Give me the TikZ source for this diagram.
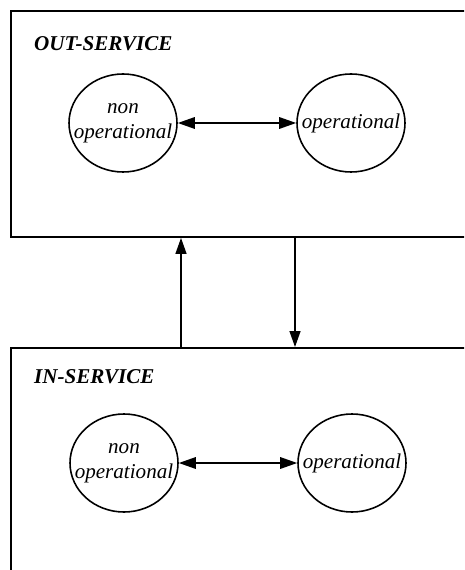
\documentclass[tikz,border=0pt]{standalone}
\usepackage{fontspec}
\setmainfont{Liberation Serif}
\usetikzlibrary{arrows.meta,shapes.geometric}
\tikzset{
  servicebox/.style={draw, line width=1.1pt, anchor=north west, minimum width=9.6cm, minimum height=4.52cm},
  state/.style={draw, ellipse, line width=0.9pt, minimum width=2.16cm, minimum height=1.96cm, inner xsep=-0.32cm, inner ysep=0pt, align=center, font=\itshape\large},
  boxlabel/.style={anchor=west, font=\bfseries\itshape\large},
  link/.style={line width=0.9pt, {Triangle[length=0.34cm,width=0.23cm]}-{Triangle[length=0.34cm,width=0.23cm]}},
  move/.style={line width=0.8pt, -{Triangle[length=0.32cm,width=0.22cm]}}
}
\begin{document}
\begin{tikzpicture}[x=0.2cm, y=0.2cm]
    \useasboundingbox (0,0) rectangle (46.4,-57);
    \clip (0,0) rectangle (46.4,-57);
    \node[servicebox] (outsvc) at (1,-1) {};
    \node[servicebox, minimum height=5.5cm] (insvc) at (1,-34.7) {};
    \node[boxlabel] (outlabel) at (2.8,-4.4) {OUT-SERVICE};
    \node[boxlabel] (inlabel) at (2.8,-37.7) {IN-SERVICE};
    \node[state] (outnon) at (12.3,-12.3) {non\\operational};
    \node[state] (outop) at (35.1,-12.3) {operational};
    \node[state] (innon) at (12.4,-46.3) {non\\operational};
    \node[state] (inop) at (35.2,-46.3) {operational};
    \draw[link] (outnon) -- (outop);
    \draw[link] (innon) -- (inop);
    \coordinate (upx) at (18.1,0);
    \coordinate (downx) at (29.5,0);
    \draw[move] (insvc.north -| upx) -- (outsvc.south -| upx);
    \draw[move] (outsvc.south -| downx) -- (insvc.north -| downx);
\end{tikzpicture}
\end{document}
